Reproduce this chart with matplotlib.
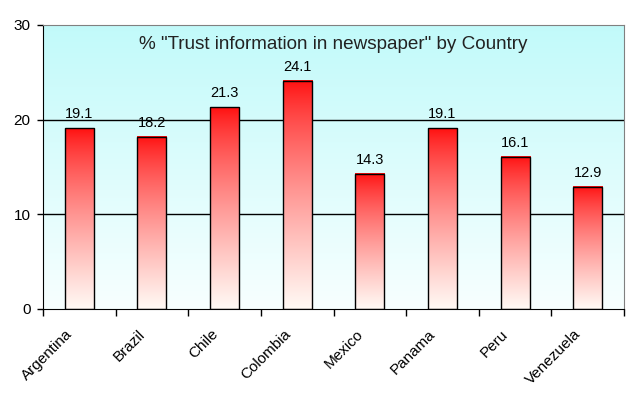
import matplotlib.pyplot as plt
import matplotlib.transforms as mtransforms
import numpy as np

plt.rcParams['font.family'] = ['Liberation Sans', 'DejaVu Sans']

countries = ['Argentina', 'Brazil', 'Chile', 'Colombia', 'Mexico', 'Panama', 'Peru', 'Venezuela']
trust = [19.1, 18.2, 21.3, 24.1, 14.3, 19.1, 16.1, 12.9]
title = '% "Trust information in newspaper" by Country'

fig = plt.figure(figsize=(6.34, 3.99), dpi=100)
ax = fig.add_axes([43 / 634, 90 / 399, 581 / 634, 284 / 399])

x = np.arange(len(countries))

# background: light cyan at the top fading to near white
bg = np.linspace(0, 1, 256).reshape(-1, 1)
top_c = np.array([0.76, 0.98, 0.98])
bot_c = np.array([0.97, 1.0, 1.0])
bg_img = top_c + (bot_c - top_c) * bg[:, :, None] * np.ones((1, 1, 3))
ax.imshow(bg_img, extent=(0, 1, 0, 1), transform=ax.transAxes,
          aspect='auto', zorder=0, interpolation='bilinear')

# bars with red -> white gradient
bars = ax.bar(x, trust, width=0.4, facecolor='none', edgecolor='black',
              linewidth=1.0, zorder=3)
g = np.linspace(0, 1, 256).reshape(-1, 1)
red_top = np.array([1.0, 0.05, 0.05])
red_bot = np.array([1.0, 0.98, 0.96])
bar_img = red_top + (red_bot - red_top) * (g ** 0.75)[:, :, None] * np.ones((1, 1, 3))
for b in bars:
    x0, w, h = b.get_x(), b.get_width(), b.get_height()
    ax.imshow(bar_img, extent=(x0, x0 + w, 0, h), aspect='auto',
              zorder=2, interpolation='bilinear')
    ax.annotate(f'{h:.1f}', (x0 + w / 2, h), xytext=(0, 5),
                textcoords='offset points', ha='center', va='bottom',
                fontsize=10.5)
ax.set_xlim(-0.5, len(countries) - 0.5)
ax.set_ylim(0, 30)

# gridlines
for yv in [10, 20]:
    ax.axhline(yv, color='black', linewidth=1.0, zorder=1)

ax.set_yticks([0, 10, 20, 30])
ax.tick_params(axis='y', labelsize=11, length=4, width=1, pad=5)

ax.set_xticks(x)
ax.set_xticklabels(countries, rotation=45, ha='right', fontsize=11,
                   rotation_mode='anchor')
ax.set_xticks(np.arange(-0.5, len(countries)), minor=True)
ax.tick_params(axis='x', which='major', length=0, pad=13)
ax.tick_params(axis='x', which='minor', length=5, width=1)
shift = mtransforms.ScaledTranslation(-10 / 72, 0, fig.dpi_scale_trans)
for lab in ax.get_xticklabels():
    lab.set_transform(lab.get_transform() + shift)

for s in ['left', 'bottom']:
    ax.spines[s].set_color('black')
for s in ['top', 'right']:
    ax.spines[s].set_color('#808080')

ax.text(0.5, 0.932, title, transform=ax.transAxes, ha='center', va='center',
        fontsize=13.6, color='#222222', zorder=4)

fig.savefig('out.png', dpi=100)
